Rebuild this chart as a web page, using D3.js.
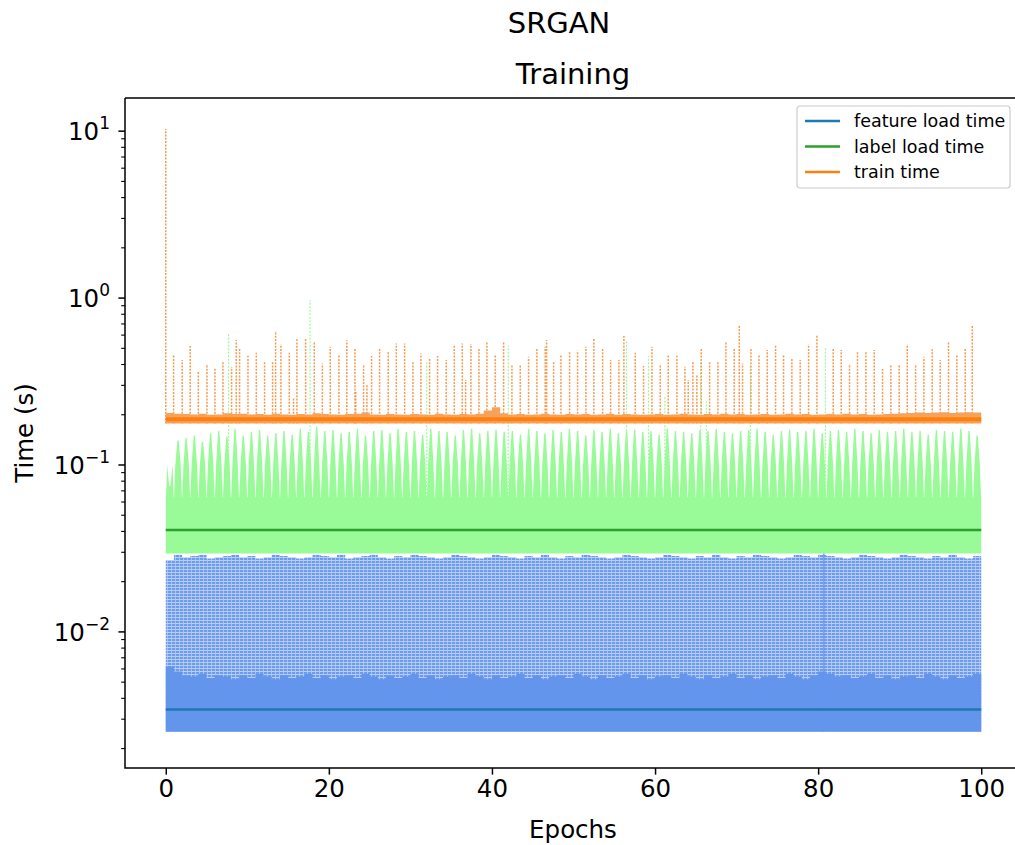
<!DOCTYPE html>
<html>
<head>
<meta charset="utf-8">
<script src="https://cdn.jsdelivr.net/npm/d3@7/dist/d3.min.js"></script>
<style>
  body { margin: 0; background: #fff; }
  text { font-family: "DejaVu Sans", sans-serif; fill: #000; }
</style>
</head>
<body>
<div id="chart"></div>
<script>
// values (seconds, log axis)
const xTickValues = [0, 20, 40, 60, 80, 100];
const yTickExponents = [-2, -1, 0, 1];
const seriesNames = ['feature load time', 'label load time', 'train time'];
const meanTimes = [0.00343, 0.0408, 0.188];

// train time: spikes at the start of each epoch [epoch, seconds]
const trainSpikes = [
  [0, 10.3], [0.96, 0.456], [2.02, 0.425], [3.0, 0.516], [3.99, 0.362], [5.05, 0.403], [6.03, 0.381],
  [7.01, 0.415], [8.07, 0.388], [8.64, 0.56], [9.05, 0.50], [10.08, 0.451], [11.1, 0.47], [12.12, 0.42],
  [13.1, 0.415], [13.47, 0.634], [14.12, 0.528], [15.15, 0.47], [15.67, 0.25], [16.08, 0.566], [17.15, 0.57],
  [18.21, 0.548], [19.2, 0.406], [20.17, 0.511], [21.23, 0.46], [22.2, 0.558], [23.2, 0.504], [23.3, 0.28],
  [24.26, 0.40], [24.67, 0.30], [25.24, 0.45], [26.22, 0.50], [27.28, 0.473], [28.27, 0.535], [29.29, 0.535],
  [30.31, 0.415], [31.29, 0.466], [32.35, 0.441], [33.33, 0.45], [34.39, 0.425], [35.38, 0.518], [36.36, 0.535],
  [36.77, 0.323], [37.42, 0.53], [38.4, 0.497], [39.38, 0.545], [40.4, 0.46], [41.43, 0.551], [42.45, 0.397],
  [43.47, 0.397], [44.49, 0.445], [45.51, 0.497], [46.53, 0.511], [46.7, 0.56], [47.56, 0.42], [48.46, 0.456],
  [49.52, 0.473], [50.5, 0.484], [51.52, 0.511], [52.5, 0.573], [53.57, 0.50], [54.55, 0.425], [55.57, 0.425],
  [56.18, 0.592], [57.57, 0.47], [58.59, 0.392], [59.62, 0.511], [60.64, 0.397], [61.62, 0.456], [62.68, 0.451],
  [63.66, 0.388], [64.07, 0.323], [64.64, 0.415], [65.13, 0.35], [65.67, 0.50], [66.69, 0.42], [67.71, 0.412],
  [68.69, 0.548], [69.71, 0.504], [70.33, 0.68], [70.73, 0.406], [71.76, 0.495], [72.74, 0.456], [73.76, 0.488],
  [74.78, 0.518], [75.76, 0.46], [76.78, 0.439], [77.8, 0.425], [78.83, 0.528], [79.85, 0.598], [81.85, 0.50],
  [82.83, 0.488], [83.85, 0.403], [84.83, 0.477], [85.86, 0.48], [86.88, 0.488], [87.9, 0.376], [88.92, 0.394],
  [89.94, 0.397], [90.93, 0.528], [91.95, 0.394], [92.97, 0.445], [93.99, 0.493], [94.97, 0.425], [95.99, 0.543],
  [97.01, 0.456], [98.04, 0.495], [98.9, 0.68]
];
// train time: dense band per epoch (0..100)
const trainLow = 0.177;
const trainHigh = [
  0.205, 0.203, 0.202, 0.201, 0.203, 0.200, 0.201, 0.204, 0.202, 0.203,
  0.201, 0.202, 0.200, 0.203, 0.201, 0.200, 0.202, 0.201, 0.204, 0.202,
  0.201, 0.200, 0.202, 0.203, 0.206, 0.201, 0.200, 0.202, 0.201, 0.200,
  0.202, 0.201, 0.200, 0.203, 0.201, 0.200, 0.202, 0.201, 0.203, 0.212,
  0.222, 0.204, 0.201, 0.202, 0.200, 0.201, 0.203, 0.201, 0.200, 0.202,
  0.201, 0.202, 0.200, 0.201, 0.203, 0.200, 0.202, 0.201, 0.200, 0.201,
  0.202, 0.200, 0.201, 0.203, 0.201, 0.200, 0.202, 0.201, 0.203, 0.201,
  0.202, 0.200, 0.201, 0.202, 0.200, 0.201, 0.203, 0.201, 0.202, 0.200,
  0.201, 0.202, 0.201, 0.203, 0.201, 0.202, 0.200, 0.201, 0.202, 0.203,
  0.204, 0.205, 0.206, 0.205, 0.206, 0.207, 0.205, 0.206, 0.207, 0.206, 0.208
];

// label load time: tooth peaks per epoch (0..99), dense body and stray spikes
const labelFloor = 0.0295;
const labelBody = 0.064;
const labelPeak = [
  0.075, 0.140, 0.145, 0.150, 0.138, 0.155, 0.160, 0.148, 0.165, 0.150,
  0.158, 0.162, 0.150, 0.155, 0.160, 0.152, 0.165, 0.158, 0.170, 0.160,
  0.162, 0.155, 0.158, 0.165, 0.150, 0.160, 0.162, 0.155, 0.165, 0.158,
  0.160, 0.152, 0.165, 0.160, 0.158, 0.150, 0.162, 0.165, 0.155, 0.160,
  0.163, 0.158, 0.160, 0.152, 0.165, 0.160, 0.155, 0.162, 0.158, 0.165,
  0.160, 0.150, 0.162, 0.158, 0.165, 0.155, 0.160, 0.163, 0.158, 0.160,
  0.152, 0.165, 0.160, 0.158, 0.155, 0.162, 0.160, 0.165, 0.158, 0.155,
  0.160, 0.162, 0.165, 0.158, 0.152, 0.160, 0.163, 0.158, 0.160, 0.165,
  0.155, 0.160, 0.162, 0.158, 0.165, 0.160, 0.155, 0.162, 0.158, 0.160,
  0.165, 0.158, 0.160, 0.152, 0.162, 0.160, 0.158, 0.165, 0.160, 0.150
];
const labelSpikes = [
  [7.7, 0.62], [17.7, 0.97], [32.0, 0.42], [42.0, 0.52], [56.5, 0.55], [59.2, 0.45],
  [61.2, 0.26], [65.6, 0.42], [66.3, 0.24], [71.7, 0.40], [80.9, 0.50]
];

// feature load time: dense body and lighter upper band per epoch (0..100)
const featureFloor = 0.00252;
const featureBody = [
  0.0062, 0.0058, 0.0055, 0.0054, 0.0056, 0.0053, 0.0055, 0.0054, 0.0052, 0.0055,
  0.0053, 0.0056, 0.0054, 0.0052, 0.0055, 0.0053, 0.0054, 0.0056, 0.0053, 0.0055,
  0.0052, 0.0054, 0.0055, 0.0053, 0.0056, 0.0054, 0.0052, 0.0055, 0.0053, 0.0054,
  0.0056, 0.0053, 0.0055, 0.0052, 0.0054, 0.0055, 0.0053, 0.0056, 0.0054, 0.0052,
  0.0055, 0.0053, 0.0054, 0.0056, 0.0053, 0.0055, 0.0052, 0.0054, 0.0055, 0.0053,
  0.0056, 0.0054, 0.0052, 0.0055, 0.0053, 0.0054, 0.0056, 0.0053, 0.0055, 0.0052,
  0.0054, 0.0055, 0.0053, 0.0056, 0.0054, 0.0052, 0.0055, 0.0053, 0.0054, 0.0056,
  0.0053, 0.0055, 0.0052, 0.0054, 0.0055, 0.0053, 0.0056, 0.0054, 0.0052, 0.0055,
  0.0058, 0.0056, 0.0054, 0.0055, 0.0053, 0.0054, 0.0056, 0.0053, 0.0055, 0.0052,
  0.0054, 0.0055, 0.0053, 0.0056, 0.0054, 0.0052, 0.0055, 0.0053, 0.0054, 0.0056, 0.0055
];
const featureTop = [
  0.027, 0.029, 0.028, 0.0285, 0.029, 0.0275, 0.028, 0.0285, 0.029, 0.028,
  0.0285, 0.0275, 0.028, 0.029, 0.0285, 0.028, 0.0275, 0.028, 0.029, 0.0285,
  0.028, 0.029, 0.0275, 0.028, 0.0285, 0.029, 0.028, 0.0275, 0.0285, 0.028,
  0.029, 0.0285, 0.028, 0.0275, 0.028, 0.029, 0.0285, 0.028, 0.0275, 0.028,
  0.029, 0.0285, 0.028, 0.0275, 0.0285, 0.028, 0.029, 0.028, 0.0275, 0.0285,
  0.028, 0.029, 0.0285, 0.028, 0.0275, 0.028, 0.029, 0.0285, 0.028, 0.0275,
  0.028, 0.029, 0.0285, 0.028, 0.0275, 0.0285, 0.028, 0.029, 0.028, 0.0275,
  0.0285, 0.028, 0.029, 0.0285, 0.028, 0.0275, 0.028, 0.029, 0.0285, 0.028,
  0.029, 0.0285, 0.028, 0.0275, 0.028, 0.029, 0.0285, 0.028, 0.0275, 0.028,
  0.029, 0.0285, 0.028, 0.0275, 0.0285, 0.028, 0.029, 0.028, 0.0275, 0.0285, 0.028
];
const featureSpikes = [[80.7, 0.033]];

const colors = { feature: '#1f77b4', label: '#2ca02c', train: '#ff7f0e' };
const rawColors = { feature: '#6495ed', label: '#98fb98', train: '#f4a460' };

const W = 1015, H = 845;
const plot = { left: 125, top: 98, right: 1022, bottom: 768 };

const x = d3.scaleLinear().domain([-5, 105]).range([plot.left, plot.right]);
const y = d3.scaleLog().domain([0.00153, 15.8]).range([plot.bottom, plot.top]);

const svg = d3.select('#chart').append('svg')
  .attr('width', W)
  .attr('height', H);

const defs = svg.append('defs');
defs.append('clipPath').attr('id', 'clip')
  .append('rect')
  .attr('x', plot.left).attr('y', plot.top)
  .attr('width', plot.right - plot.left).attr('height', plot.bottom - plot.top);

// dotted texture for the light part of the feature series
const pat = defs.append('pattern').attr('id', 'hatch')
  .attr('patternUnits', 'userSpaceOnUse')
  .attr('width', 4).attr('height', 3);
pat.append('rect').attr('width', 4).attr('height', 3).attr('fill', '#b9cdf6');
pat.append('rect').attr('width', 4).attr('height', 2).attr('fill', '#6d9bee');
pat.append('rect').attr('x', 3).attr('width', 1).attr('height', 2).attr('fill', '#a6c0f3');

const g = svg.append('g').attr('clip-path', 'url(#clip)');

const epochIdx = featureBody.map((d, i) => i);

// feature load time
g.append('path')
  .datum(epochIdx)
  .attr('fill', 'url(#hatch)')
  .attr('d', d3.area()
    .curve(d3.curveStepAfter)
    .x(i => x(i))
    .y0(y(featureFloor))
    .y1(i => y(featureTop[i])));

g.append('path')
  .datum(epochIdx)
  .attr('fill', rawColors.feature)
  .attr('d', d3.area()
    .curve(d3.curveStepAfter)
    .x(i => x(i))
    .y0(y(featureFloor))
    .y1(i => y(featureBody[i])));

g.selectAll('.fspike')
  .data(featureSpikes)
  .enter().append('line')
  .attr('class', 'fspike')
  .attr('x1', d => x(d[0])).attr('x2', d => x(d[0]))
  .attr('y1', y(featureFloor)).attr('y2', d => y(d[1]))
  .attr('stroke', rawColors.feature)
  .attr('stroke-width', 1.2);

// label load time: dense body plus a tooth each epoch
g.append('path')
  .datum(epochIdx)
  .attr('fill', rawColors.label)
  .attr('d', d3.area()
    .x(i => x(i))
    .y0(y(labelFloor))
    .y1(y(labelBody)));

const tooth = i => {
  const c = i + 0.5;
  const p = labelPeak[i];
  return [
    [x(c - 0.48), y(labelBody) + 1],
    [x(c - 0.33), y(0.1)],
    [x(c - 0.08), y(p)],
    [x(c + 0.08), y(p)],
    [x(c + 0.33), y(0.1)],
    [x(c + 0.48), y(labelBody) + 1]
  ];
};
g.selectAll('.tooth')
  .data(labelPeak.map((d, i) => i))
  .enter().append('path')
  .attr('class', 'tooth')
  .attr('fill', rawColors.label)
  .attr('d', i => d3.line()(tooth(i)) + 'Z');

g.selectAll('.lspike')
  .data(labelSpikes)
  .enter().append('line')
  .attr('class', 'lspike')
  .attr('x1', d => x(d[0])).attr('x2', d => x(d[0]))
  .attr('y1', y(labelBody)).attr('y2', d => y(d[1]))
  .attr('stroke', rawColors.label)
  .attr('stroke-width', 1.2)
  .attr('stroke-dasharray', '2,1.5');

// train time
g.selectAll('.tspike')
  .data(trainSpikes)
  .enter().append('line')
  .attr('class', 'tspike')
  .attr('x1', d => x(d[0])).attr('x2', d => x(d[0]))
  .attr('y1', y(trainLow)).attr('y2', d => y(d[1]))
  .attr('stroke', '#f59a4e')
  .attr('stroke-width', 1.5)
  .attr('stroke-dasharray', '2,1.3');

g.append('path')
  .datum(trainHigh.map((d, i) => i))
  .attr('fill', '#f6a25a')
  .attr('d', d3.area()
    .curve(d3.curveStepAfter)
    .x(i => x(i))
    .y0(y(trainLow))
    .y1(i => y(trainHigh[i])));

// mean lines
const meanKeys = ['feature', 'label', 'train'];
g.selectAll('.mean')
  .data(meanTimes)
  .enter().append('line')
  .attr('class', 'mean')
  .attr('x1', x(0)).attr('x2', x(100))
  .attr('y1', d => y(d)).attr('y2', d => y(d))
  .attr('stroke', (d, i) => colors[meanKeys[i]])
  .attr('stroke-width', (d, i) => i === 2 ? 4 : 2.6);

// axes
const xAxis = svg.append('g')
  .attr('transform', `translate(0, ${plot.bottom})`)
  .call(d3.axisBottom(x).tickValues(xTickValues).tickSize(6.6).tickPadding(5));
xAxis.select('.domain').remove();
xAxis.selectAll('line').attr('stroke-width', 1.5);
xAxis.selectAll('text').attr('font-size', 24.5).attr('font-family', 'DejaVu Sans');

const minor = y.ticks().filter(v => Math.abs(Math.log10(v) - Math.round(Math.log10(v))) > 1e-6);
svg.selectAll('.minor')
  .data(minor)
  .enter().append('line')
  .attr('class', 'minor')
  .attr('x1', plot.left - 3.8).attr('x2', plot.left)
  .attr('y1', d => y(d)).attr('y2', d => y(d))
  .attr('stroke', '#000').attr('stroke-width', 1.1);

svg.selectAll('.major')
  .data(yTickExponents)
  .enter().append('line')
  .attr('class', 'major')
  .attr('x1', plot.left - 6.6).attr('x2', plot.left)
  .attr('y1', d => y(Math.pow(10, d))).attr('y2', d => y(Math.pow(10, d)))
  .attr('stroke', '#000').attr('stroke-width', 1.5);

const ylab = svg.selectAll('.ylab')
  .data(yTickExponents)
  .enter().append('text')
  .attr('class', 'ylab')
  .attr('x', plot.left - 15)
  .attr('y', d => y(Math.pow(10, d)) + 9)
  .attr('text-anchor', 'end')
  .attr('font-size', 24.5);
ylab.append('tspan').text('10');
ylab.append('tspan')
  .attr('dy', -11)
  .attr('font-size', 17)
  .text(d => (d < 0 ? '\u2212' : '') + Math.abs(d));

// spines (right spine falls outside the figure)
svg.append('path')
  .attr('d', `M${plot.left},${plot.top}V${plot.bottom}H${W}M${plot.left},${plot.top}H${W}`)
  .attr('fill', 'none')
  .attr('stroke', '#000')
  .attr('stroke-width', 1.5);

// titles and labels
svg.append('text').attr('x', 559).attr('y', 33).attr('text-anchor', 'middle')
  .attr('font-size', 29).text('SRGAN');
svg.append('text').attr('x', 573).attr('y', 84).attr('text-anchor', 'middle')
  .attr('font-size', 29).text('Training');
svg.append('text').attr('x', 573).attr('y', 838).attr('text-anchor', 'middle')
  .attr('font-size', 24.5).text('Epochs');
svg.append('text')
  .attr('transform', `translate(33, ${(plot.top + plot.bottom) / 2}) rotate(-90)`)
  .attr('text-anchor', 'middle')
  .attr('font-size', 24.5).text('Time (s)');

// legend
const lg = svg.append('g').attr('transform', 'translate(797, 106)');
lg.append('rect')
  .attr('width', 213).attr('height', 82)
  .attr('rx', 3)
  .attr('fill', '#fff').attr('fill-opacity', 0.8)
  .attr('stroke', '#cccccc').attr('stroke-width', 1.2);
const items = lg.selectAll('.item')
  .data(seriesNames)
  .enter().append('g')
  .attr('class', 'item')
  .attr('transform', (d, i) => `translate(0, ${15 + i * 25.5})`);
items.append('line')
  .attr('x1', 8).attr('x2', 43)
  .attr('stroke', (d, i) => colors[meanKeys[i]])
  .attr('stroke-width', 2.6);
items.append('text')
  .attr('x', 57).attr('y', 6)
  .attr('font-size', 17.5)
  .text(d => d);
</script>
</body>
</html>
